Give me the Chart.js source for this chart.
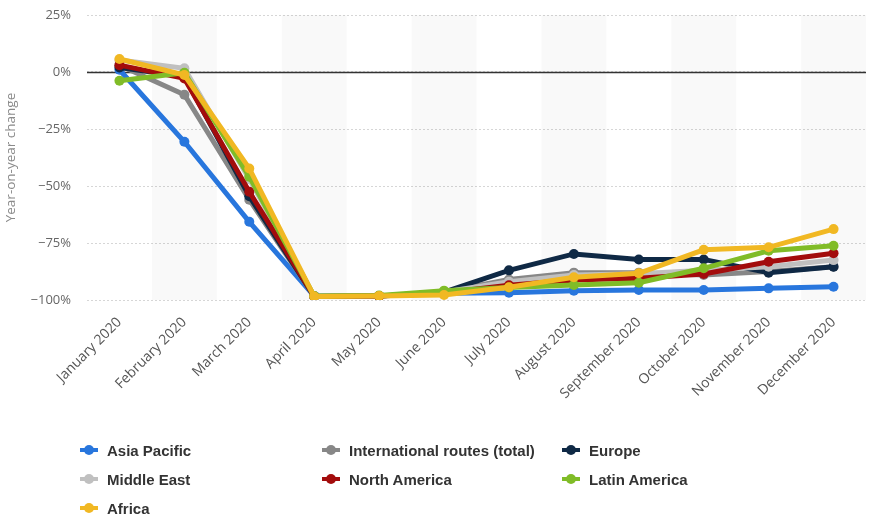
<!DOCTYPE html>
<html>
<head>
<meta charset="utf-8">
<script src="https://cdn.jsdelivr.net/npm/chart.js@4/dist/chart.umd.min.js"></script>
<style>
	body { margin: 0; background: #fff; }
	#wrap { position: relative; width: 871px; height: 518px; }
	#legend {
		position: absolute; left: 80px; top: 440px;
		display: grid; grid-template-columns: 242px 240px auto; row-gap: 9px;
		font-family: "Liberation Sans Narrow", "Liberation Sans", sans-serif;
		font-weight: bold; font-size: 15px; color: #333;
	}
	.item { display: flex; align-items: center; height: 20px; }
	.mark { position: relative; width: 18px; height: 10px; margin-right: 9px; }
	.mark .ln { position: absolute; left: 0; top: 3px; width: 18px; height: 4px; }
	.mark .dot { position: absolute; left: 4px; top: 0; width: 10px; height: 10px; border-radius: 50%; }
</style>
</head>
<body>
<div id="wrap">
	<canvas id="chart" width="871" height="518"></canvas>
	<div id="legend"></div>
</div>
<script>
const months = ["January 2020", "February 2020", "March 2020", "April 2020", "May 2020", "June 2020",
	"July 2020", "August 2020", "September 2020", "October 2020", "November 2020", "December 2020"];
const yTicks = [25, 0, -25, -50, -75, -100];

const seriesNames = ["Asia Pacific", "International routes (total)", "Europe", "Middle East",
	"North America", "Latin America", "Africa"];
const seriesColors = ["#2876dd", "#878787", "#0f2945", "#c0c0c0", "#a30c0c", "#80bc27", "#f1b823"];

const asiaPacific = [1, -30.6, -65.7, -98.2, -98.2, -97, -96.8, -95.9, -95.6, -95.6, -94.9, -94.2];
const international = [3, -10, -56, -98.5, -98.3, -96.5, -91, -88, -88, -89, -87.5, -85.4];
const europe = [2, -2, -54.5, -98.5, -98.3, -96.5, -87, -79.8, -82.2, -82.2, -88, -85.4];
const middleEast = [5.3, 1.6, -47, -98.3, -98.2, -96.5, -92, -89, -88.5, -87, -85.4, -82.5];
const northAmerica = [3, -2.8, -52.5, -98.5, -98.3, -96.8, -93.5, -91.2, -90.5, -88.6, -83.2, -79.5];
const latinAmerica = [-3.8, -0.3, -45.9, -98.3, -98, -95.9, -94.5, -93.4, -92.4, -86.1, -78.4, -76.2];
const africa = [5.7, -1.3, -42.3, -98.5, -98.2, -97.8, -94.4, -90, -88.3, -78, -76.9, -68.9];

const seriesValues = [asiaPacific, international, europe, middleEast, northAmerica, latinAmerica, africa];

// shaded columns behind every second month, plus the solid zero line
const backdrop = {
	id: "backdrop",
	beforeDatasetsDraw(chart) {
		const { ctx, chartArea, scales } = chart;
		const x = scales.x, y = scales.y;
		const half = (x.getPixelForValue(1) - x.getPixelForValue(0)) / 2;
		ctx.save();
		ctx.fillStyle = "rgba(0,0,0,0.025)";
		for (let i = 1; i < months.length; i += 2) {
			const cx = x.getPixelForValue(i);
			ctx.fillRect(cx - half, chartArea.top, half * 2, chartArea.bottom - chartArea.top);
		}
		const zy = Math.round(y.getPixelForValue(0)) + 0.5;
		ctx.strokeStyle = "#333";
		ctx.lineWidth = 1.5;
		ctx.beginPath();
		ctx.moveTo(chartArea.left, zy);
		ctx.lineTo(chartArea.right, zy);
		ctx.stroke();
		ctx.restore();
	}
};

const datasets = seriesNames.map((name, i) => ({
	label: name,
	data: seriesValues[i],
	borderColor: seriesColors[i],
	backgroundColor: seriesColors[i],
	pointBackgroundColor: seriesColors[i],
	borderWidth: 5,
	pointRadius: 5,
	pointBorderWidth: 0,
	tension: 0,
	order: seriesNames.length - i
}));

const chart = new Chart(document.getElementById("chart"), {
	type: "line",
	data: { labels: months, datasets: datasets },
	plugins: [backdrop],
	options: {
		responsive: false,
		animation: false,
		layout: { padding: { top: 15, right: 4, left: 0, bottom: 0 } },
		plugins: { legend: { display: false }, tooltip: { enabled: false } },
		scales: {
			x: {
				offset: true,
				grid: { display: false },
				border: { display: false },
				ticks: {
					color: "#555", font: { family: "Open Sans", size: 14 },
					maxRotation: 45, minRotation: 45, padding: 6, autoSkip: false
				},
				afterFit(scale) { scale.height = 218; }
			},
			y: {
				min: -100, max: 25,
				afterBuildTicks(scale) { scale.ticks = yTicks.map(v => ({ value: v })); },
				grid: { color: "#d6d6d6", lineWidth: 1, drawTicks: false },
				border: { display: false, dash: [2, 2] },
				ticks: {
					color: "#666", font: { family: "Open Sans", size: 13 }, padding: 16,
					callback: v => (v < 0 ? "\u2212" + Math.abs(v) : v) + "%"
				},
				title: {
					display: true, text: "Year-on-year change", color: "#8a8a8a",
					font: { family: "Open Sans", size: 13.5 }, padding: { top: 3, bottom: 0 }
				},
				afterFit(scale) {
					scale.width = 87;
					scale.paddingTop = 0;
					scale.paddingBottom = 0;
				}
			}
		}
	}
});

// legend laid out as a three-column grid under the plot
const legend = document.getElementById("legend");
chart.data.datasets.forEach(ds => {
	const item = document.createElement("div");
	item.className = "item";
	item.innerHTML = `<span class="mark"><span class="ln" style="background:${ds.borderColor}"></span>` +
		`<span class="dot" style="background:${ds.borderColor}"></span></span>${ds.label}`;
	legend.appendChild(item);
});
</script>
</body>
</html>
